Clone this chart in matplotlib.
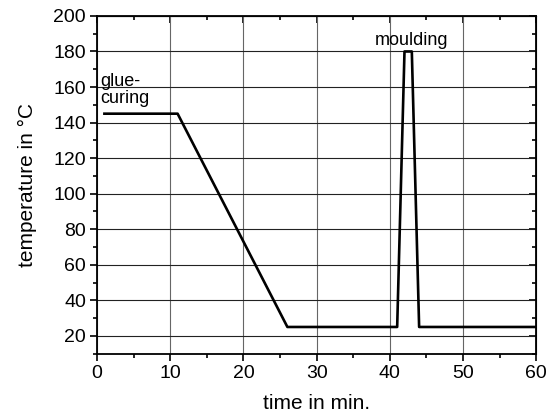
import matplotlib.pyplot as plt
from matplotlib.ticker import MultipleLocator

plt.rcParams['font.family'] = ['Liberation Sans', 'DejaVu Sans']

# temperature profile
time_min = [1, 11, 26, 41, 42, 43, 44, 60]
temp_c = [145, 145, 25, 25, 180, 180, 25, 25]

fig = plt.figure(figsize=(5.58, 4.19), dpi=100)
ax = fig.add_axes([0.174, 0.156, 0.787, 0.806])

ax.plot(time_min, temp_c, color='black', linewidth=1.9)

ax.set_xlim(0, 60)
ax.set_ylim(10, 200)
ax.xaxis.set_major_locator(MultipleLocator(10))
ax.xaxis.set_minor_locator(MultipleLocator(5))
ax.yaxis.set_major_locator(MultipleLocator(20))
ax.yaxis.set_minor_locator(MultipleLocator(10))

ax.grid(True, which='major', axis='y', color='#222222', linewidth=0.8)
ax.grid(True, which='major', axis='x', color='#666666', linewidth=0.8)
ax.set_axisbelow(True)

ax.tick_params(which='both', direction='out', labelsize=14, width=1.2, pad=3)
ax.tick_params(which='major', length=5)
ax.tick_params(which='minor', length=3)
for spine in ax.spines.values():
    spine.set_linewidth(1.3)

# ticks on top/right point inward
ax2 = ax.secondary_xaxis('top')
ax2.xaxis.set_major_locator(MultipleLocator(10))
ax2.xaxis.set_minor_locator(MultipleLocator(5))
ax2.tick_params(which='both', direction='in', labeltop=False, width=1.2)
ax2.tick_params(which='major', length=5)
ax2.tick_params(which='minor', length=3)
ax3 = ax.secondary_yaxis('right')
ax3.yaxis.set_major_locator(MultipleLocator(20))
ax3.yaxis.set_minor_locator(MultipleLocator(10))
ax3.tick_params(which='both', direction='in', labelright=False, width=1.2)
ax3.tick_params(which='major', length=5)
ax3.tick_params(which='minor', length=3)

ax.set_xlabel('time in min.', fontsize=15, labelpad=9)
ax.set_ylabel('temperature in °C', fontsize=15, labelpad=12)

ax.text(0.4, 148.5, 'glue-\ncuring', fontsize=13, ha='left', va='bottom', linespacing=1.0)
ax.text(43, 181.5, 'moulding', fontsize=13, ha='center', va='bottom')

fig.savefig('out.png', dpi=100)
